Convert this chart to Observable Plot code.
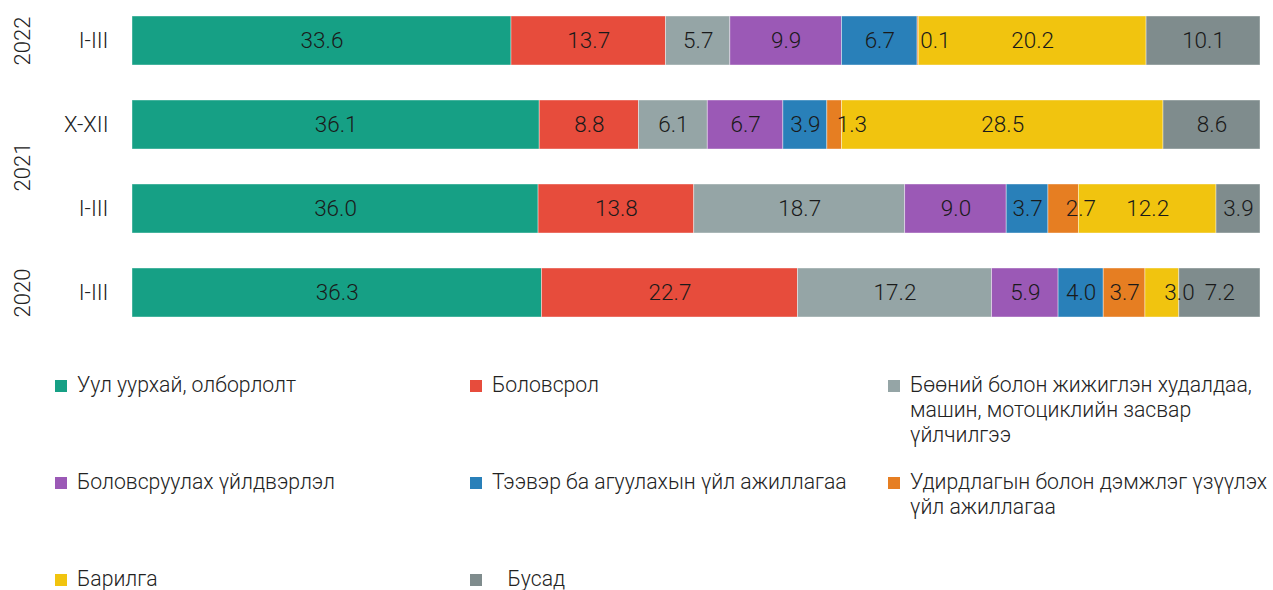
<!DOCTYPE html>
<html>
<head>
<meta charset="utf-8">
<script src="https://cdn.jsdelivr.net/npm/d3@7"></script>
<script src="https://cdn.jsdelivr.net/npm/@observablehq/plot@0.6"></script>
<style>
  html, body { margin: 0; padding: 0; background: #fff; }
  body { width: 1273px; height: 590px; overflow: hidden; font-family: Roboto, "Noto Sans", sans-serif; }
  #chart { position: absolute; left: 0; top: 0; }
  #legend { position: absolute; left: 0; top: 372px; width: 1273px; }
  .item { position: absolute; display: flex; align-items: flex-start; font-size: 21.2px; font-weight: 300; color: #222; line-height: 25px; }
  .sw { width: 12px; height: 12px; margin-top: 8px; margin-right: 10px; flex: none; }
</style>
</head>
<body>
<div id="chart"></div>
<div id="legend"></div>
<script>
const categories = [
  "Уул уурхай, олборлолт",
  "Боловсрол",
  "Бөөний болон жижиглэн худалдаа, машин, мотоциклийн засвар үйлчилгээ",
  "Боловсруулах үйлдвэрлэл",
  "Тээвэр ба агуулахын үйл ажиллагаа",
  "Удирдлагын болон дэмжлэг үзүүлэх үйл ажиллагаа",
  "Барилга",
  "   Бусад"
];
const colors = ["#16a085", "#e74c3c", "#95a5a6", "#9b59b6", "#2980b9", "#e67e22", "#f1c40f", "#7f8c8d"];
const years = ["2022", "2021", "2021", "2020"];
const periods = ["I-III", "X-XII", "I-III", "I-III"];
const values = [
  [33.6, 13.7, 5.7, 9.9, 6.7, 0.1, 20.2, 10.1],
  [36.1, 8.8, 6.1, 6.7, 3.9, 1.3, 28.5, 8.6],
  [36.0, 13.8, 18.7, 9.0, 3.7, 2.7, 12.2, 3.9],
  [36.3, 22.7, 17.2, 5.9, 4.0, 3.7, 3.0, 7.2]
];

const rowKeys = years.map((y, i) => y + " " + periods[i]);
const data = [];
rowKeys.forEach((k, i) => {
  categories.forEach((c, j) => data.push({row: k, cat: c, value: values[i][j]}));
});

// year group labels
const yearGroups = [];
years.forEach((y, i) => {
  const g = yearGroups.find(d => d.year === y);
  if (g) g.n += 1; else yearGroups.push({year: y, row: rowKeys[i], n: 1});
});

const font = "Roboto, 'Noto Sans', sans-serif";
const plot = Plot.plot({
  width: 1273,
  height: 330,
  marginLeft: 132,
  marginRight: 13,
  marginTop: 16,
  marginBottom: 13,
  style: {fontFamily: font, background: "#fff"},
  x: {domain: [0, 100], axis: null},
  y: {domain: rowKeys, paddingInner: 0.4167, paddingOuter: 0, label: null, axis: null},
  color: {domain: categories, range: colors},
  marks: [
    Plot.axisY({tickSize: 0, tickPadding: 24, tickFormat: d => d.split(" ")[1], fontSize: 22, fontWeight: 300, fill: "#222", label: null}),
    Plot.barX(data, Plot.stackX({x: "value", y: "row", fill: "cat", z: "cat", stroke: "#ffffff", strokeOpacity: 0.5, strokeWidth: 0.8})),
    Plot.text(data, Plot.stackX({x: "value", y: "row", z: "cat",
      text: d => d.value >= 3.5 ? d.value.toFixed(1) : "",
      fontSize: 22.5, fontWeight: 300, fill: "#1a1a1a"})),
    Plot.text(data, Plot.stackX({x: "value", y: "row", z: "cat",
      text: d => d.value < 3.5 ? d.value.toFixed(1) : "",
      textAnchor: "start", dx: 2, fontSize: 22.5, fontWeight: 300, fill: "#1a1a1a"})),
    Plot.text(yearGroups.filter(d => d.n === 1), {
      y: "row", text: "year", frameAnchor: "left", textAnchor: "middle", dx: -110, rotate: -90,
      fontSize: 22, fontWeight: 300, fill: "#222"}),
    Plot.text(yearGroups.filter(d => d.n === 2), {
      y: "row", text: "year", frameAnchor: "left", textAnchor: "middle", dx: -110, dy: 42, rotate: -90,
      fontSize: 22, fontWeight: 300, fill: "#222"})
  ]
});
document.getElementById("chart").appendChild(plot);

// legend
const legend = document.getElementById("legend");
const colX = [55, 470, 888];
const rowY = [0, 97, 194];
categories.forEach((c, i) => {
  const el = document.createElement("div");
  el.className = "item";
  el.style.left = colX[i % 3] + "px";
  el.style.top = rowY[Math.floor(i / 3)] + "px";
  el.style.width = (i % 3 === 2 ? 1273 - colX[2] : 400) + "px";
  el.style.whiteSpace = "pre-wrap";
  const sw = document.createElement("span");
  sw.className = "sw";
  sw.style.background = colors[i];
  const t = document.createElement("span");
  t.textContent = c;
  el.appendChild(sw);
  el.appendChild(t);
  legend.appendChild(el);
});
</script>
</body>
</html>
